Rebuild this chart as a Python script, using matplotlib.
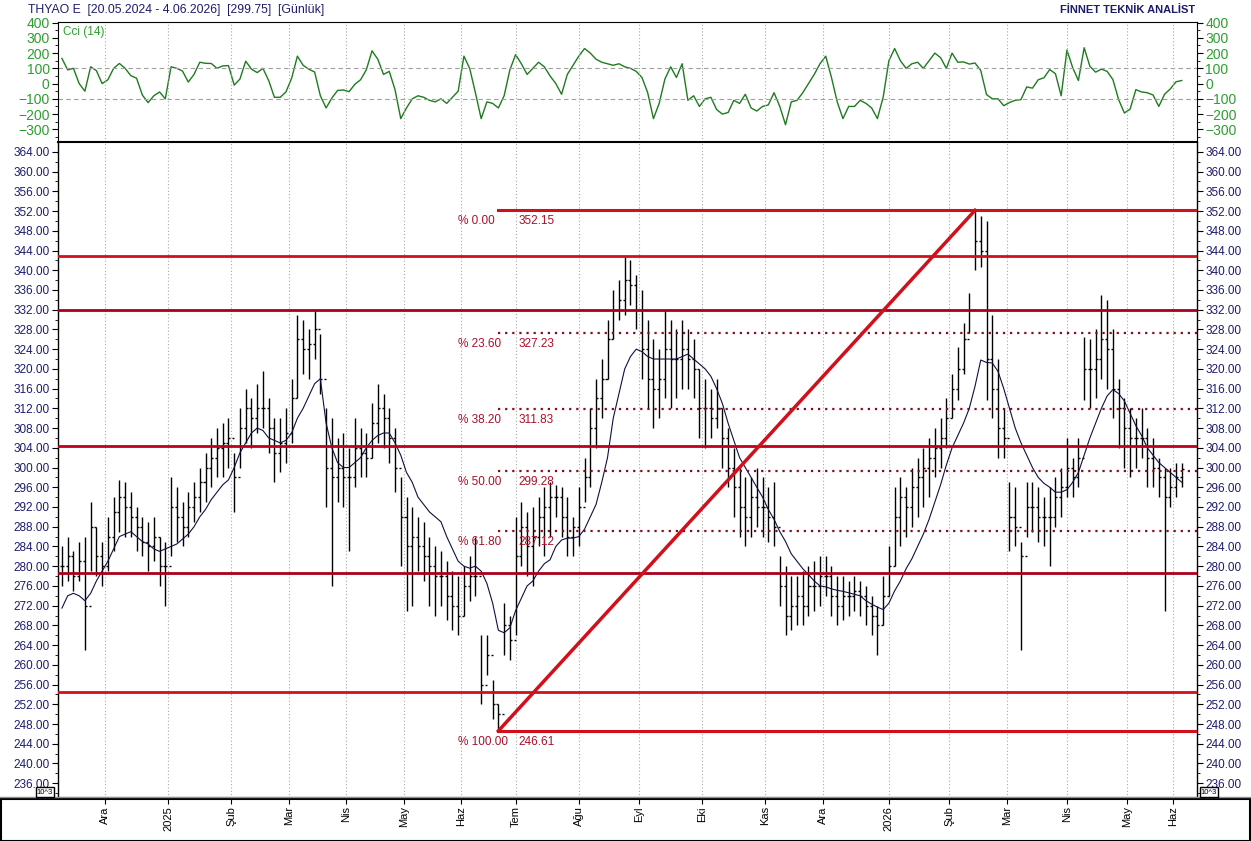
import matplotlib
matplotlib.use("Agg")
import matplotlib.pyplot as plt
from matplotlib.patches import Rectangle
import numpy as np
import pandas as pd

plt.rcParams['font.family'] = ['Liberation Sans', 'DejaVu Sans']

# Borsa Istanbul tatil günleri (işlem yapılmayan)
holidays = ["2025-01-01", "2025-03-31", "2025-04-01", "2025-04-23", "2025-05-01",
            "2025-05-19", "2025-06-06", "2025-06-09", "2025-07-15", "2025-10-29",
            "2026-01-01", "2026-03-20", "2026-04-23", "2026-05-01", "2026-05-19",
            "2026-05-27", "2026-05-28", "2026-05-29"]
days = pd.bdate_range("2024-11-08", "2026-06-04", freq="C", holidays=holidays)

# fiyat çubukları, iki günde bir (yüksek, düşük, kapanış)
highs = [284, 286, 283, 285, 286, 293, 288, 285, 290, 294, 297.5, 297, 295, 292, 290, 289,
         290, 286, 285, 298, 296, 293, 295, 297, 300, 303, 306, 308, 309, 310, 303, 312,
         316, 314, 317, 319.5, 314, 310, 310, 312, 318, 331, 330, 328, 332, 327, 312, 310,
         306, 307, 304, 310, 308, 307, 313, 317, 315, 312, 308, 298, 294, 292, 290, 289,
         286, 284, 283, 281, 279, 278, 280, 282, 286, 266, 266, 257, 252, 272.5, 270, 290,
         293, 291, 292, 294, 296, 297, 296.5, 296, 294, 290, 296, 302, 312, 318, 322, 330,
         336, 338, 342.7, 342, 339, 336, 330, 326, 324, 332, 330, 328, 330, 328, 326, 320,
         318, 316, 318, 312, 308, 304, 300, 298, 298, 300, 298, 296, 297, 282, 280, 278,
         278, 279, 280, 281, 282, 282, 280, 278, 278, 277, 278, 277, 276, 274, 272, 278,
         284, 296, 298, 296, 300, 302, 304, 306, 308, 310, 314, 319, 324.5, 329.3, 335.4, 352.15,
         351, 350, 331, 322, 312, 297, 296, 285, 297, 297, 296, 294, 296, 298, 300, 306,
         302, 306, 326.5, 326, 328, 335, 334, 328, 318, 314, 312, 310, 312, 308, 306, 302,
         300, 300, 301, 301]
lows = [276, 277, 275, 277, 263, 279, 278, 276, 279, 283, 287, 286, 286, 283, 282, 279,
        281, 276, 272, 282, 285, 284, 286, 289, 291, 293, 296, 298, 298, 300, 291, 300,
        305, 304, 307, 308, 303, 297, 299, 301, 305, 314, 319, 318, 322, 315, 292, 276,
        293, 292, 283, 296, 298, 298, 302, 305, 304, 301, 295, 280, 271, 272, 279, 277,
        272, 270, 272, 269, 267, 266, 270, 273, 274, 252, 258, 249, 246.61, 262, 261, 266,
        280, 278, 276, 284, 282, 286, 290, 286, 282, 282, 284, 293, 296, 304, 310, 318,
        326, 330, 331, 333, 328, 318, 312, 308, 310, 314, 312, 314, 316, 316, 314, 306,
        304, 306, 308, 300, 296, 290, 286, 284, 286, 288, 286, 285, 284, 272, 266, 267,
        268, 268, 270, 271, 272, 274, 270, 268, 269, 270, 271, 270, 268, 266, 262, 268,
        274, 280, 284, 286, 288, 290, 292, 294, 298, 300, 304, 310, 313.7, 319, 327.3, 340,
        340.7, 313.7, 310, 302, 302, 283, 284, 263, 286, 287, 285, 284, 280, 288, 290, 294,
        294, 296, 313.7, 312, 314, 318, 316, 310, 304, 300, 298, 300, 302, 296, 296, 294,
        271, 292, 294, 296]
closes = [280, 282, 278, 281, 272, 288, 282, 280, 286, 291, 294, 292, 290, 288, 285, 284,
          286, 280, 280, 292, 290, 288, 292, 294, 297, 300, 302, 304, 305, 306, 298, 308,
          312, 310, 312, 312, 308, 303, 305, 307, 314, 326, 324, 325, 328, 318, 300, 298,
          300, 298, 298, 304, 303, 302, 309, 312, 310, 306, 300, 290, 284, 286, 284, 282,
          280, 278, 278, 274, 272, 270, 276, 278, 278, 256, 262, 252, 250, 268, 265, 282,
          288, 284, 286, 290, 292, 294, 294, 290, 286, 288, 292, 298, 308, 314, 318, 326,
          332, 334, 338, 337, 332, 324, 318, 316, 318, 324, 322, 322, 324, 322, 320, 312,
          312, 310, 312, 306, 300, 296, 292, 290, 294, 292, 292, 290, 288, 276, 270, 272,
          274, 272, 276, 276, 278, 278, 274, 272, 274, 274, 275, 274, 272, 270, 268, 274,
          280, 290, 294, 292, 296, 298, 300, 302, 304, 306, 310, 316, 320, 326, 332, 346,
          344, 322, 316, 308, 306, 290, 288, 282, 292, 292, 290, 290, 290, 294, 296, 300,
          298, 302, 320, 320, 322, 326, 324, 316, 312, 308, 306, 306, 306, 302, 300, 298,
          294, 296, 298, 299.75]
# hareketli ortalama
ma = [271.5, 274, 274.5, 274, 273, 274.5, 277, 279, 281, 283.5, 286, 286.5, 287, 286, 285, 284.5,
      283.5, 283, 283.5, 284, 284.5, 285.5, 286.5, 288, 290, 291.5, 293.5, 295, 296.5, 297.5, 300, 303,
      305, 307, 308, 307.5, 306, 305.5, 305, 305.5, 307, 310, 312, 314.5, 317, 318, 309, 304,
      301, 300, 300, 301, 302, 304, 305.5, 306.5, 307, 307, 305, 302.5, 299, 297, 294, 292.5,
      291, 290, 289, 286, 283.5, 281, 280, 279.6, 280, 279, 276.5, 272.5, 267, 266.5, 267.5, 271,
      273.5, 276, 277, 279, 280.5, 281.3, 284, 285.3, 285.7, 285.7, 286, 287.5, 290, 292.5, 297, 302,
      310, 315, 320, 322.5, 324, 323.5, 322.5, 322, 322, 322, 322, 322, 322.5, 323, 322, 321,
      320, 318.5, 316, 313, 309, 305.5, 302, 300, 298, 296, 294, 291.5, 289.5, 287, 285, 282.5,
      281, 279.5, 278.3, 277, 276, 275.8, 275.4, 275.1, 274.9, 274.6, 274.3, 274, 273, 272.3, 271.7, 271.2,
      272.5, 275, 277, 279.5, 281.5, 284, 286.5, 289.5, 293, 296.5, 300.5, 304, 306.5, 309, 312, 316.5,
      321.8, 321.3, 321.2, 319.5, 316, 312, 308, 305, 302.5, 300, 298, 296.8, 296, 295, 295, 295.5,
      297, 299, 302.5, 306, 309, 312, 314.5, 315.8, 315, 313.5, 311, 308.5, 306.5, 304, 302.5, 301,
      300, 299, 298, 297]
# CCI (14), iki günde bir
cci = [165, 90, 100, 0, -50, 110, 85, 0, 25, 100, 132, 100, 52, 35, -75, -125,
       -80, -55, -100, 110, 100, 82, 10, 60, 140, 133, 132, 100, 116, 118, -10, 30,
       147, 95, 72, 100, 20, -90, -90, -55, 35, 180, 120, 94, 76, -80, -160, -95,
       -45, -42, -53, -5, 25, 90, 215, 160, 60, 80, -40, -230, -160, -100, -80, -90,
       -110, -120, -100, -130, -90, -50, 180, 100, -60, -230, -120, -130, -160, -80, 90, 190,
       130, 60, 100, 140, 110, 50, 0, -70, 60, 120, 180, 230, 200, 160, 140, 130,
       120, 130, 110, 100, 80, 40, -60, -230, -130, 30, 110, 40, 130, -110, -80, -150,
       -100, -90, -170, -200, -190, -110, -130, -70, -160, -180, -150, -140, -60, -150, -270, -120,
       -110, -60, 0, 60, 130, 180, 40, -120, -230, -150, -150, -110, -130, -160, -230, -90,
       150, 230, 150, 100, 130, 140, 100, 150, 200, 170, 100, 200, 140, 142, 128, 135,
       85, -72, -100, -100, -145, -124, -110, -105, -22, -30, 25, 38, 92, 65, -80, 220,
       105, 20, 235, 113, 75, 95, 80, 27, -105, -193, -168, -40, -55, -60, -75, -150,
       -70, -35, 12, 20]

# yatay destek/direnç seviyeleri
levels = [342.9, 332.0, 304.4, 278.6, 254.4]
level_colors = ['#d0101a', '#a8001c', '#c0001a', '#a8001c', '#d0101a']
# Fibonacci düzeltme
fib_pct = ["% 0.00", "% 23.60", "% 38.20", "% 50.00", "% 61.80", "% 100.00"]
fib_val = [352.15, 327.23, 311.83, 299.28, 287.12, 246.61]

month_names = ['Oca', 'Şub', 'Mar', 'Nis', 'May', 'Haz', 'Tem', 'Ağu', 'Eyl', 'Eki', 'Kas', 'Ara']

idx = np.arange(len(days))
bx = idx[1::2][:len(highs)]
cx = idx[1::2][:len(cci)]

fig = plt.figure(figsize=(12.51, 8.41), dpi=100)
W, H = 1251, 841
ax_c = fig.add_axes([58 / W, 1 - 141.5 / H, 1139 / W, 119.5 / H])
ax = fig.add_axes([58 / W, 1 - 798 / H, 1139 / W, 656 / H], sharex=ax_c)

# aylık ızgara ve etiketler
s = pd.Series(idx, index=days)
firsts = s.groupby([days.year, days.month]).first()
tpos, tlab = [], []
for (y, m), i in firsts.items():
    if days[i].day > 5:
        continue
    tpos.append(i)
    tlab.append(str(y) if m == 1 else month_names[m - 1])

navy = '#1c1c6c'
green = '#2e9e2e'

# --- CCI paneli ---
ax_c.plot(cx, cci, color='#1e7b1e', lw=1)
for v in (100, -100):
    ax_c.axhline(v, color='#a0a0a0', lw=0.8, ls=(0, (4, 3)))
for p in tpos:
    ax_c.axvline(p, color='#a8a8a8', lw=0.8, ls=(0, (1, 2)))
ax_c.set_ylim(-380, 404)
ax_c.set_yticks(range(-300, 401, 100))
ax_c.set_yticks(range(-350, 401, 50), minor=True)
ax_c.tick_params(axis='y', which='both', left=True, right=True, labelleft=True,
                 labelright=True, labelsize=10, labelcolor=green, length=4, pad=2)
ax_c.tick_params(axis='y', which='minor', length=2)
ax_c.tick_params(axis='x', bottom=False, labelbottom=False)
ax_c.text(0.004, 0.97, "Cci (14)", transform=ax_c.transAxes, color=green,
          fontsize=8.5, ha='left', va='top')

# --- fiyat paneli ---
for p in tpos:
    ax.axvline(p, color='#a8a8a8', lw=0.8, ls=(0, (1, 2)), zorder=0)

opens = [closes[0]] + closes[:-1]
ax.vlines(bx, lows, highs, color='black', lw=1, zorder=3)
ax.hlines(closes, bx, bx + 0.7, color='black', lw=1, zorder=3)
ax.hlines(opens, bx - 0.7, bx, color='black', lw=1, zorder=3)
ax.plot(bx, ma, color='#101040', lw=0.8, zorder=4)

for v, col in zip(levels, level_colors):
    ax.axhline(v, color=col, lw=2, zorder=5)

i_lo = bx[int(np.argmin(lows))]
i_hi = bx[int(np.argmax(highs))]
x_end = 396.3
for k, (lab, v) in enumerate(zip(fib_pct, fib_val)):
    if k in (0, len(fib_val) - 1):
        ax.plot([i_lo, x_end], [v, v], color='#d0101a', lw=2.2, zorder=5)
    else:
        ax.plot([i_lo, x_end], [v, v], color='#8a0a1a', lw=1.6, ls=(0, (1, 2.2)), zorder=5)
    ax.text(i_lo - 14, v - 2.2, lab, color='#a8102a', fontsize=8.5, ha='left', va='center')
    ax.text(i_lo + 7, v - 2.2, f"{v:.2f}", color='#a8102a', fontsize=8.5, ha='left', va='center')
ax.plot([i_lo, i_hi], [min(lows), max(highs)], color='#d0101a', lw=2.5, zorder=6)

ax.set_ylim(233.0, 366.0)
ax.set_xlim(-0.37, x_end)
ax.set_yticks(np.arange(236, 365, 4))
ax.set_yticks(np.arange(234, 366, 2), minor=True)
ax.yaxis.set_major_formatter(matplotlib.ticker.FormatStrFormatter('%.2f'))
ax.tick_params(axis='y', which='both', left=True, right=True, labelleft=True,
               labelright=True, labelsize=8.5, labelcolor=navy, length=4, pad=2)
ax.tick_params(axis='y', which='minor', length=2)
ax.set_xticks(tpos)
ax.set_xticklabels(tlab, rotation=90, fontsize=8)
ax.tick_params(axis='x', length=4, pad=2)
for sp in ax.spines.values():
    sp.set_linewidth(1)
ax.spines['top'].set_linewidth(1.5)
ax.spines['bottom'].set_linewidth(1.5)

# başlıklar
fig.text(28 / W, 1 - 10 / H, "THYAO E  [20.05.2024 - 4.06.2026]  [299.75]  [Günlük]",
         color=navy, fontsize=8.8, ha='left', va='center')
fig.text(1195 / W, 1 - 10 / H, "FİNNET TEKNİK ANALİST", color=navy, fontsize=8,
         fontweight='bold', ha='right', va='center')

box = dict(boxstyle='square,pad=0.15', fc='white', ec='black', lw=1)
fig.text(45 / W, 1 - 792 / H, "10^3", fontsize=5.5, ha='center', va='center', bbox=box,
         zorder=10)
fig.text(1209 / W, 1 - 792 / H, "10^3", fontsize=5.5, ha='center', va='center', bbox=box,
         zorder=10)

fig.add_artist(Rectangle((0.5 / W, 0.5 / H), (W - 1.5) / W, 42 / H, transform=fig.transFigure,
                         fill=False, ec='black', lw=1.5))
fig.add_artist(plt.Line2D([0, 1], [1 - 797 / H, 1 - 797 / H], transform=fig.transFigure,
                          color='#909090', lw=1))

fig.savefig("out.png", dpi=100)
